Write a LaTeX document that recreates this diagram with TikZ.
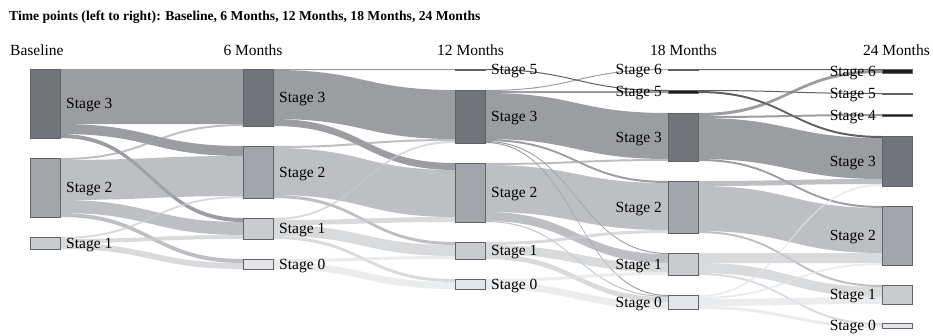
\documentclass[tikz,border=0pt]{standalone}
\usepackage{fontspec}
\setmainfont{Liberation Serif}
\definecolor{cS3}{HTML}{717479}
\definecolor{cS2}{HTML}{A2A5A9}
\definecolor{cS1}{HTML}{C9CBCE}
\definecolor{cS0}{HTML}{E3E5E8}
\definecolor{cSx}{HTML}{1C1C1C}
\definecolor{nodeline}{HTML}{5F6266}
\newcommand{\sk}[6]{%
  \fill[#6, fill opacity=0.7]
   ([yshift=-#2pt]#1.north east) .. controls +(91.5,0) and +(-91.5,0) .. ([yshift=-#4pt]#3.north west)
   -- ([yshift=-#4pt-#5pt]#3.north west) .. controls +(-91.5,0) and +(91.5,0) .. ([yshift=-#2pt-#5pt]#1.north east) -- cycle;}
\newcommand{\lblR}[2]{\node[lbl, anchor=base west] (l#1) at ([xshift=6pt,yshift=-5.4pt]#1.east) {#2};}
\newcommand{\lblL}[2]{\node[lbl, anchor=base east] (l#1) at ([xshift=-6pt,yshift=-5.4pt]#1.west) {#2};}
\begin{document}
\begin{tikzpicture}[x=1pt,y=-1pt,
  nd/.style={rectangle, inner sep=0pt, outer sep=0pt, minimum width=30pt, anchor=north west,
     draw=nodeline, line width=0.8pt, fill=#1},
  lbl/.style={font=\fontsize{15.5}{18}\selectfont, inner sep=0pt},
  hdr/.style={font=\fontsize{15.5}{18}\selectfont, inner sep=0pt},
  ttl/.style={font=\fontsize{13.6}{16}\selectfont\bfseries, inner sep=0pt}]
\fill[white] (0,0) rectangle (933,335);
\useasboundingbox (0,0) rectangle (933,335);
% nodes (positions)
\path
 node[nd=cS3, minimum height=69pt] (b3) at (30,69) {}
 node[nd=cS2, minimum height=59pt] (b2) at (30,158) {}
 node[nd=cS1, minimum height=12pt] (b1) at (30,237) {}
 node[nd=cS3, minimum height=57pt] (m3) at (243,69) {}
 node[nd=cS2, minimum height=52pt] (m2) at (243,146) {}
 node[nd=cS1, minimum height=21pt] (m1) at (243,218) {}
 node[nd=cS0, minimum height=10pt] (m0) at (243,259) {}
 node[nd=cSx, minimum height=1pt] (t5) at (455,69) {}
 node[nd=cS3, minimum height=53pt] (t3) at (455,90) {}
 node[nd=cS2, minimum height=59pt] (t2) at (455,163) {}
 node[nd=cS1, minimum height=17pt] (t1) at (455,242) {}
 node[nd=cS0, minimum height=10pt] (t0) at (455,279) {}
 node[nd=cSx, minimum height=1pt] (e6) at (668,69) {}
 node[nd=cSx, minimum height=3pt] (e5) at (668,90) {}
 node[nd=cS3, minimum height=48pt] (e3) at (668,113) {}
 node[nd=cS2, minimum height=52pt] (e2) at (668,181) {}
 node[nd=cS1, minimum height=22pt] (e1) at (668,253) {}
 node[nd=cS0, minimum height=14pt] (e0) at (668,295) {}
 node[nd=cSx, minimum height=4pt] (f6) at (882,69) {}
 node[nd=cSx, minimum height=1pt] (f5) at (882,93) {}
 node[nd=cSx, minimum height=2pt] (f4) at (882,114) {}
 node[nd=cS3, minimum height=50pt] (f3) at (882,136) {}
 node[nd=cS2, minimum height=59pt] (f2) at (882,206) {}
 node[nd=cS1, minimum height=19pt] (f1) at (882,285) {}
 node[nd=cS0, minimum height=5pt] (f0) at (882,323) {};
% links gap 1
\sk{b3}{0}{m3}{0}{55}{cS3}
\sk{b3}{55}{m2}{0}{10}{cS3}
\sk{b3}{65}{m1}{0}{4}{cS3}
\sk{b2}{0}{m3}{55}{2}{cS2}
\sk{b2}{2}{m2}{10}{40}{cS2}
\sk{b2}{42}{m1}{4}{13}{cS2}
\sk{b2}{55}{m0}{0}{4}{cS2}
\sk{b1}{0}{m2}{50}{2}{cS1}
\sk{b1}{2}{m1}{17}{4}{cS1}
\sk{b1}{6}{m0}{4}{6}{cS1}
% gap 2
\sk{m3}{0}{t5}{0}{1}{cS3}
\sk{m3}{1}{t3}{0}{49}{cS3}
\sk{m3}{50}{t2}{0}{7}{cS3}
\sk{m2}{0}{t3}{49}{2}{cS2}
\sk{m2}{2}{t2}{7}{47}{cS2}
\sk{m2}{49}{t1}{0}{3}{cS2}
\sk{m1}{0}{t3}{51}{2}{cS1}
\sk{m1}{2}{t2}{54}{5}{cS1}
\sk{m1}{7}{t1}{3}{11}{cS1}
\sk{m1}{18}{t0}{0}{3}{cS1}
\sk{m0}{0}{t1}{14}{3}{cS0}
\sk{m0}{3}{t0}{3}{7}{cS0}
% gap 3
\sk{t5}{0}{e5}{0}{1}{cSx}
\sk{t3}{0}{e6}{0}{1}{cS3}
\sk{t3}{1}{e5}{1}{2}{cS3}
\sk{t3}{3}{e3}{0}{46}{cS3}
\sk{t3}{49}{e2}{0}{2}{cS3}
\sk{t3}{51}{e1}{0}{1}{cS3}
\sk{t3}{52}{e0}{0}{1}{cS3}
\sk{t2}{0}{e3}{46}{2}{cS2}
\sk{t2}{2}{e2}{2}{47}{cS2}
\sk{t2}{49}{e1}{1}{9}{cS2}
\sk{t2}{58}{e0}{1}{1}{cS2}
\sk{t1}{0}{e2}{49}{3}{cS1}
\sk{t1}{3}{e1}{10}{9}{cS1}
\sk{t1}{12}{e0}{2}{5}{cS1}
\sk{t0}{0}{e1}{19}{3}{cS0}
\sk{t0}{3}{e0}{7}{7}{cS0}
% gap 4
\sk{e6}{0}{f6}{0}{1}{cSx}
\sk{e5}{0}{f5}{0}{1}{cSx}
\sk{e5}{1}{f3}{0}{2}{cSx}
\sk{e3}{0}{f6}{1}{3}{cS3}
\sk{e3}{3}{f4}{0}{2}{cS3}
\sk{e3}{5}{f3}{2}{41}{cS3}
\sk{e3}{46}{f2}{0}{2}{cS3}
\sk{e2}{0}{f3}{43}{5}{cS2}
\sk{e2}{5}{f2}{2}{45}{cS2}
\sk{e2}{50}{f1}{0}{2}{cS2}
\sk{e1}{0}{f2}{47}{10}{cS1}
\sk{e1}{10}{f1}{2}{10}{cS1}
\sk{e1}{20}{f0}{0}{2}{cS1}
\sk{e0}{0}{f3}{48}{2}{cS0}
\sk{e0}{2}{f2}{57}{2}{cS0}
\sk{e0}{4}{f1}{12}{7}{cS0}
\sk{e0}{11}{f0}{2}{3}{cS0}
% redraw nodes on top
\foreach \n/\c in {b3/cS3,b2/cS2,b1/cS1,m3/cS3,m2/cS2,m1/cS1,m0/cS0,t5/cSx,t3/cS3,t2/cS2,t1/cS1,t0/cS0,
  e6/cSx,e5/cSx,e3/cS3,e2/cS2,e1/cS1,e0/cS0,f6/cSx,f5/cSx,f4/cSx,f3/cS3,f2/cS2,f1/cS1,f0/cS0}
  \draw[fill=\c, draw=nodeline, line width=0.8pt] (\n.north west) rectangle (\n.south east);
% labels
\lblR{b3}{Stage 3}\lblR{b2}{Stage 2}\lblR{b1}{Stage 1}
\lblR{m3}{Stage 3}\lblR{m2}{Stage 2}\lblR{m1}{Stage 1}\lblR{m0}{Stage 0}
\lblR{t5}{Stage 5}\lblR{t3}{Stage 3}\lblR{t2}{Stage 2}\lblR{t1}{Stage 1}\lblR{t0}{Stage 0}
\lblL{e6}{Stage 6}\lblL{e5}{Stage 5}\lblL{e3}{Stage 3}\lblL{e2}{Stage 2}\lblL{e1}{Stage 1}\lblL{e0}{Stage 0}
\lblL{f6}{Stage 6}\lblL{f5}{Stage 5}\lblL{f4}{Stage 4}\lblL{f3}{Stage 3}\lblL{f2}{Stage 2}\lblL{f1}{Stage 1}\lblL{f0}{Stage 0}
% headers
\node[ttl, anchor=base west] (title) at (9,20) {Time points (left to right): Baseline, 6 Months, 12 Months, 18 Months, 24 Months};
\node[hdr, anchor=base west] (h0) at (10,55) {Baseline};
\node[hdr, anchor=base] (h6) at (253,55) {6 Months};
\node[hdr, anchor=base] (h12) at (470.5,55) {12 Months};
\node[hdr, anchor=base] (h18) at (683.5,55) {18 Months};
\node[hdr, anchor=base east] (h24) at (930,55) {24 Months};
\end{tikzpicture}
\end{document}
